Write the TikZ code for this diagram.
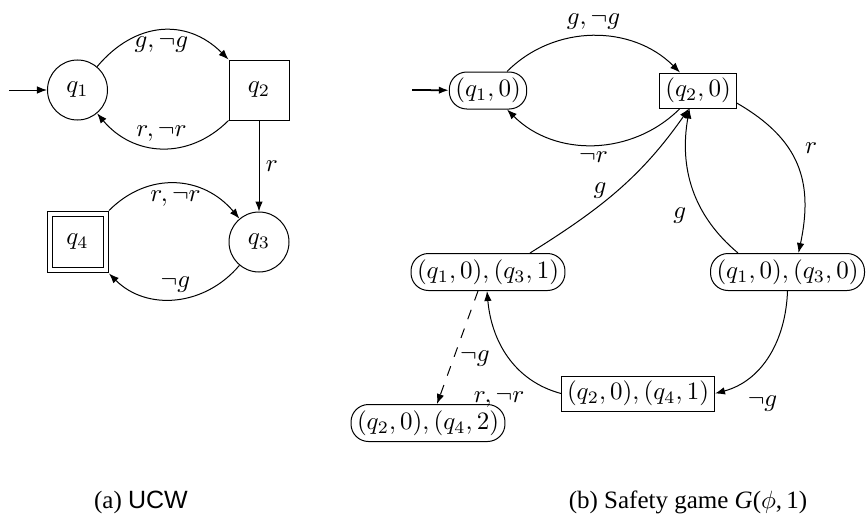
\documentclass[tikz,border=0pt]{standalone}
\usepackage[no-math]{fontspec}
\setmainfont{Liberation Serif}
\newfontfamily\capsans{Liberation Sans}
\usetikzlibrary{arrows.meta}
\begin{document}
\begin{tikzpicture}[x=0.4pt,y=-0.4pt,
  every path/.style={line width=0.4pt},
  >={Latex[length=4pt,width=3pt]},
  circstate/.style={draw,circle,minimum size=24pt,inner sep=0pt},
  sqstate/.style={draw,rectangle,minimum size=24pt,inner sep=0pt},
  dblstate/.style={draw,rectangle,minimum size=22.4pt,inner sep=0pt,double,double distance=1.6pt,outer sep=1.4pt},
  rstate/.style={draw,rectangle,rounded corners=7pt,minimum height=14.8pt,inner xsep=2.4pt,inner ysep=0pt},
  bstate/.style={draw,rectangle,minimum height=14pt,inner xsep=2.2pt,inner ysep=0pt},
  lab/.style={inner sep=2.5pt},
  capt/.style={font=\fontsize{10pt}{12pt}\selectfont,inner sep=0pt}
]
\useasboundingbox (0,0) rectangle (866,520);
% ---- (a) UCW ----
\coordinate (s1) at (9,90);
\node[circstate] (q1) at (77.5,90) {$q_1$};
\node[sqstate] (q2) at (259,90) {$q_2$};
\node[circstate] (q3) at (259,242) {$q_3$};
\node[dblstate] (q4) at (77.5,242) {$q_4$};
\draw[->] (s1) -- (q1);
\draw[->] (q1) to[out=50,in=135,looseness=1.15] node[lab,below]{$g,\neg g$} (q2);
\draw[->] (q2) to[out=-135,in=-50,looseness=1.1] node[lab,above]{$r,\neg r$} (q1);
\draw[->] (q2) -- node[lab,right]{$r$} (q3);
\draw[->] (q4) to[out=45,in=130,looseness=1.1] node[lab,below]{$r,\neg r$} (q3);
\draw[->] (q3) to[out=-130,in=-45,looseness=1.05] node[lab,above]{$\neg g$} (q4);
% ---- (b) safety game ----
\coordinate (s2) at (412,90);
\node[rstate] (q10) at (488,90.5) {$(q_1,0)$};
\node[bstate] (q20) at (698,90.5) {$(q_2,0)$};
\node[rstate] (n31) at (488,272) {$(q_1,0),(q_3,1)$};
\node[rstate] (n30) at (787.5,272) {$(q_1,0),(q_3,0)$};
\node[bstate] (n41) at (638,393.5) {$(q_2,0),(q_4,1)$};
\node[rstate] (n42) at (428,423) {$(q_2,0),(q_4,2)$};
\draw[->,line width=0.7pt] (s2) -- (q10);
\draw[->] (q10) to[out=45,in=135] node[lab,above]{$g,\neg g$} (q20);
\draw[->] (q20) to[out=-135,in=-45] node[lab,below]{$\neg r$} (q10);
\draw[->] ([xshift=16.8pt]n31.north) to[out=32,in=-125] node[lab,pos=0.5,above left,yshift=-6pt,xshift=-2pt]{$g$} ([xshift=-3.6pt]q20.south);
\draw[->] ([xshift=-19.8pt]n30.north) to[out=140,in=-100] node[lab,pos=0.3,left,xshift=-5pt]{$g$} ([xshift=-3.4pt]q20.south);
\draw[->] ([yshift=-5pt]q20.east) to[out=-30,in=78,looseness=1.15] node[lab,pos=0.38,right,xshift=4pt]{$r$} ([xshift=4.4pt]n30.north);
\draw[->] (n30.south) to[out=-92,in=15] node[lab,pos=0.9,below right,xshift=5pt]{$\neg g$} (n41.east);
\draw[->] (n41.west) to[out=165,in=-85] node[lab,pos=0,anchor=east,xshift=-12pt,yshift=-2.5pt]{$r,\neg r$} ([xshift=-0.4pt]n31.south);
\draw[->,dash pattern=on 4pt off 4pt] ([xshift=-4pt]n31.south) -- node[lab,pos=0.6,right]{$\neg g$} ([xshift=3.6pt]n42.north);
% ---- captions ----
\node[capt] (ca) at (141,502) {(a) {\capsans UCW}};
\node[capt] (cb) at (688,502) {(b) Safety game \textit{G}($\phi$,\,1)};
\end{tikzpicture}
\end{document}
